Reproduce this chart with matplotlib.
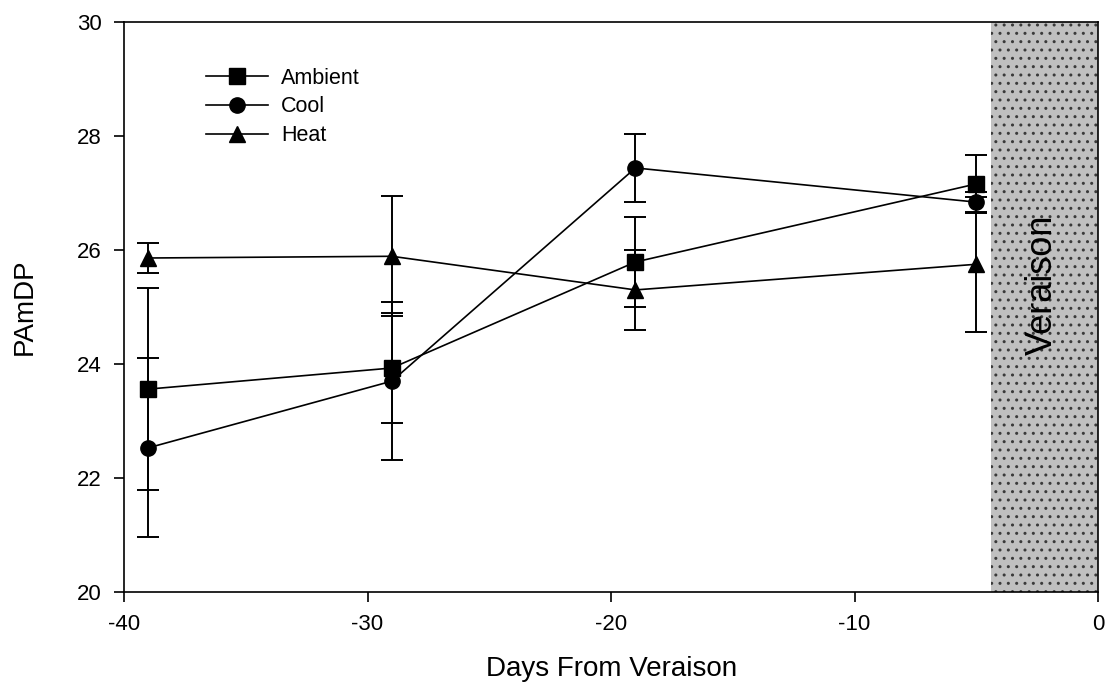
import matplotlib
matplotlib.use("Agg")
import matplotlib.pyplot as plt

plt.rcParams['font.family'] = ['Liberation Sans', 'DejaVu Sans']
plt.rcParams['axes.unicode_minus'] = False
plt.rcParams['hatch.linewidth'] = 1.0

days = [-39, -29, -19, -5]
ambient = [23.56, 23.93, 25.79, 27.16]
ambient_err = [1.77, 0.97, 0.79, 0.51]
cool = [22.53, 23.70, 27.44, 26.84]
cool_err = [1.57, 1.38, 0.59, 0.17]
heat = [25.86, 25.89, 25.30, 25.75]
heat_err = [0.27, 1.05, 0.70, 1.18]
veraison_span = [-4.4, 0]

fig = plt.figure(figsize=(11.07, 6.88), dpi=100)
ax = fig.add_axes([0.112, 0.1395, 0.880, 0.8285])

ax.axvspan(veraison_span[0], veraison_span[1], facecolor='#c0c0c0',
           edgecolor='#3a3a3a', hatch='..', linewidth=0, zorder=0)
ax.text(-2.3, 25.39, 'Veraison',
        rotation=90, ha='center', va='center', fontsize=26)

series = [(ambient, ambient_err, 's', 'Ambient', 11),
          (cool, cool_err, 'o', 'Cool', 11),
          (heat, heat_err, '^', 'Heat', 12)]
handles = []
for vals, errs, mk, lab, ms in series:
    ax.errorbar(days, vals, yerr=errs, fmt='none', ecolor='black',
                elinewidth=1.4, capsize=8, capthick=1.4, zorder=2)
    ln, = ax.plot(days, vals, color='black', marker=mk, ms=ms, lw=1.2,
                  label=lab, zorder=3)
    handles.append(ln)

ax.set_xlim(-40, 0)
ax.set_ylim(20, 30)
ax.set_xticks([-40, -30, -20, -10, 0])
ax.set_yticks([20, 22, 24, 26, 28, 30])
ax.tick_params(direction='out', length=7, width=1.2, labelsize=16, pad=9)
for s in ax.spines.values():
    s.set_linewidth(1.2)

ax.set_xlabel('Days From Veraison', fontsize=20, labelpad=15)
ax.set_ylabel('PAmDP', fontsize=20, labelpad=28)

leg = ax.legend(handles=handles, loc='upper left', bbox_to_anchor=(0.075, 0.935),
                frameon=False, fontsize=15.5, handlelength=2.9,
                handletextpad=0.6, labelspacing=0.36, borderaxespad=0)

fig.savefig('out.png', dpi=100)
